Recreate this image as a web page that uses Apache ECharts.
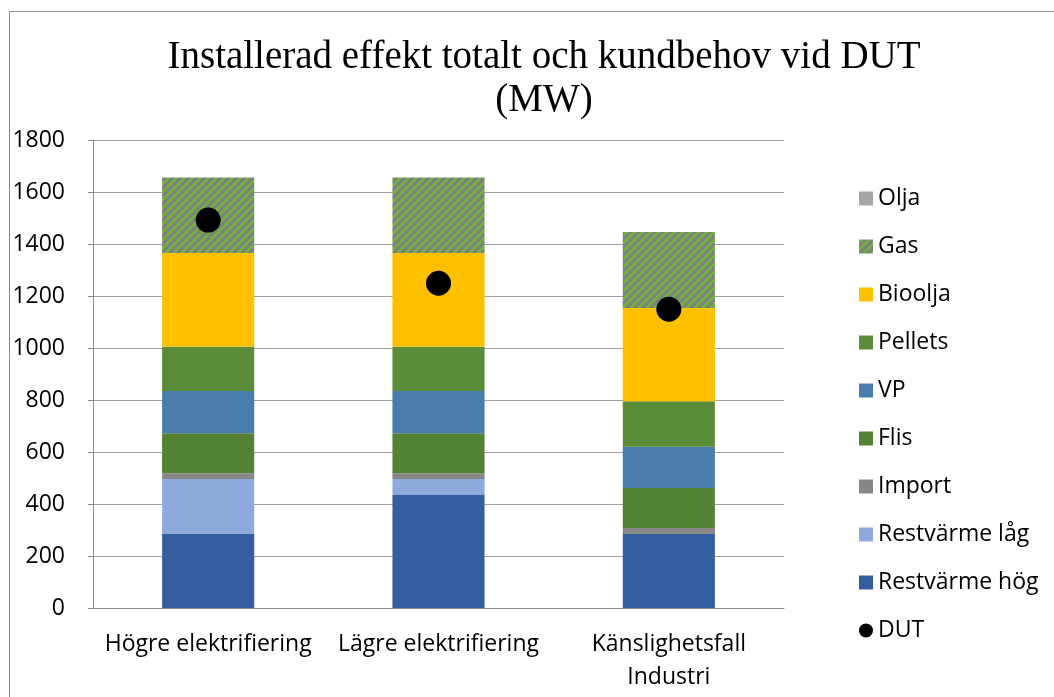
<!DOCTYPE html>
<html>
<head>
<meta charset="utf-8">
<script src="https://cdn.jsdelivr.net/npm/echarts@6/dist/echarts.min.js"></script>
<style>
    html, body { margin: 0; padding: 0; background: #fff; }
    #main { width: 1054px; height: 697px; }
</style>
</head>
<body>
<div id="main"></div>
<script>
// 数据
var categories = ['Högre elektrifiering', 'Lägre elektrifiering', 'Känslighetsfall\nIndustri']
var restvarmeHog = [285, 435, 285]
var restvarmeLag = [211, 61, 0]
var importData = [22, 22, 23]
var flis = [154, 154, 154]
var vp = [163, 163, 158]
var pellets = [170, 170, 175]
var bioolja = [360, 360, 359]
var gas = [291, 291, 292]
var olja = [0, 0, 0]
var dut = [1492, 1249, 1149]
var yTicks = [0, 200, 400, 600, 800, 1000, 1200, 1400, 1600, 1800]

// Gas 斜线填充
var pat = document.createElement('canvas')
pat.width = 8
pat.height = 8
var pctx = pat.getContext('2d')
for (var x = 0; x < 8; x++) {
    for (var y = 0; y < 8; y++) {
        pctx.fillStyle = ((x + y) % 8) < 4 ? '#6fb03f' : '#7f7f7f'
        pctx.fillRect(x, y, 1, 1)
    }
}
var gasFill = { image: pat, repeat: 'repeat' }

var font = '"Open Sans", sans-serif'

function bar(name, data, color) {
    return {
        name: name,
        type: 'bar',
        stack: 'total',
        barWidth: '40%',
        data: data,
        itemStyle: { color: color },
        emphasis: { disabled: true }
    }
}

var myChart = echarts.init(document.getElementById('main'))

var option = {
    animation: false,
    title: {
        text: 'Installerad effekt totalt och kundbehov vid DUT\n(MW)',
        left: 539,
        textAlign: 'center',
        top: 31,
        textStyle: {
            fontFamily: '"Liberation Serif", serif',
            fontSize: 39,
            fontWeight: 'normal',
            lineHeight: 43,
            color: '#000'
        }
    },
    graphic: [{
        type: 'rect',
        shape: { x: 9.5, y: 11.5, width: 1200, height: 900 },
        style: { fill: 'none', stroke: '#8c8c8c', lineWidth: 1 },
        silent: true
    }],
    legend: {
        orient: 'vertical',
        left: 854,
        top: 182,
        itemWidth: 14,
        itemHeight: 14,
        itemGap: 25,
        textStyle: { fontFamily: font, fontSize: 23, lineHeight: 23, color: '#000' },
        data: [
            { name: 'Olja', icon: 'rect' },
            { name: 'Gas', icon: 'rect' },
            { name: 'Bioolja', icon: 'rect' },
            { name: 'Pellets', icon: 'rect' },
            { name: 'VP', icon: 'rect' },
            { name: 'Flis', icon: 'rect' },
            { name: 'Import', icon: 'rect' },
            { name: 'Restvärme låg', icon: 'rect' },
            { name: 'Restvärme hög', icon: 'rect' },
            { name: 'DUT', icon: 'circle' }
        ]
    },
    grid: { left: 93, right: 270, top: 140, bottom: 89 },
    xAxis: {
        type: 'category',
        data: categories,
        axisLine: { lineStyle: { color: '#8c8c8c' } },
        axisTick: { show: false },
        axisLabel: {
            fontFamily: font,
            fontSize: 23,
            lineHeight: 33,
            color: '#000',
            margin: 20,
            interval: 0
        }
    },
    yAxis: {
        type: 'value',
        min: yTicks[0],
        max: yTicks[yTicks.length - 1],
        interval: 200,
        axisLine: { show: true, lineStyle: { color: '#8c8c8c' } },
        axisTick: { show: true, length: 5, lineStyle: { color: '#8c8c8c' } },
        splitLine: { lineStyle: { color: '#a0a0a0', width: 1 } },
        axisLabel: {
            fontFamily: font,
            fontSize: 23,
            color: '#000',
            margin: 28,
            formatter: function(v) { return String(v) }
        }
    },
    series: [
        bar('Restvärme hög', restvarmeHog, '#355ea0'),
        bar('Restvärme låg', restvarmeLag, '#8eaadc'),
        bar('Import', importData, '#878787'),
        bar('Flis', flis, '#548235'),
        bar('VP', vp, '#4a7dac'),
        bar('Pellets', pellets, '#5b8c39'),
        bar('Bioolja', bioolja, '#ffc000'),
        bar('Gas', gas, gasFill),
        bar('Olja', olja, '#a5a5a5'),
        {
            name: 'DUT',
            type: 'scatter',
            data: dut,
            symbol: 'circle',
            symbolSize: 25,
            z: 5,
            itemStyle: { color: '#000', opacity: 1 },
            emphasis: { disabled: true }
        }
    ]
}

myChart.setOption(option)
</script>
</body>
</html>
